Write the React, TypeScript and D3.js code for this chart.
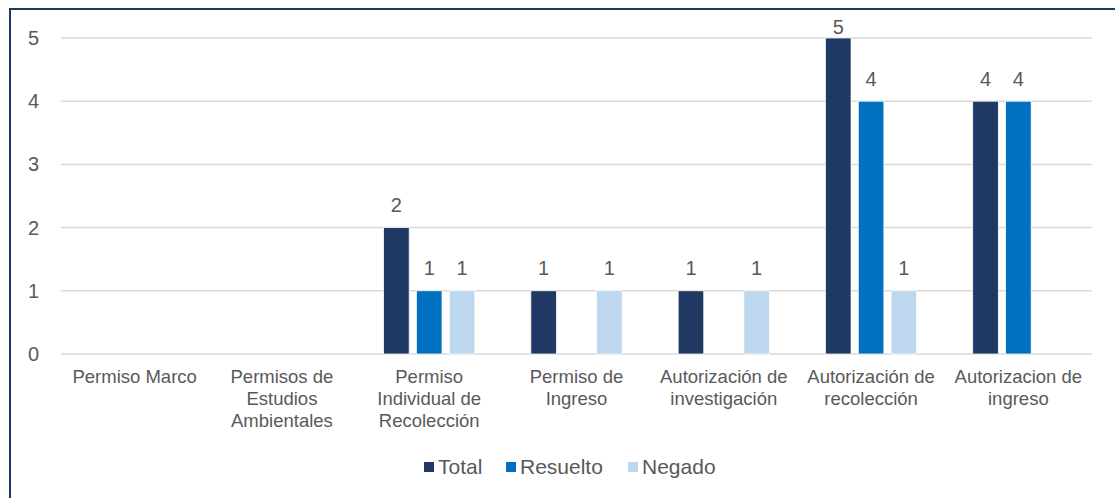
import React from "react";
import * as d3 from "d3";

const categories = [
  "Permiso Marco",
  "Permisos de\nEstudios\nAmbientales",
  "Permiso\nIndividual de\nRecolección",
  "Permiso de\nIngreso",
  "Autorización de\ninvestigación",
  "Autorización de\nrecolección",
  "Autorizacion de\ningreso",
];
const seriesNames = ["Total", "Resuelto", "Negado"];
const total: (number | null)[] = [null, null, 2, 1, 1, 5, 4];
const resuelto: (number | null)[] = [null, null, 1, null, null, 4, 4];
const negado: (number | null)[] = [null, null, 1, 1, 1, 1, null];
const yTicks = [0, 1, 2, 3, 4, 5];
const colors = ["#1F3864", "#0070C0", "#BDD7EE"];

const W = 1115;
const H = 498;
const FONT = "'Liberation Sans', Arial, sans-serif";
const TXT = "#595959";

export default function App() {
  const series = [total, resuelto, negado];
  const x = d3.scaleBand<string>().domain(categories).range([61, 1092]);
  const inner = d3
    .scaleBand<string>()
    .domain(seriesNames)
    .range([28, x.bandwidth() - 28])
    .paddingInner(0.22);
  const y = d3.scaleLinear().domain([0, 5]).range([354, 38]);

  return (
    <svg
      width={W}
      height={H}
      style={{ position: "absolute", left: 0, top: 0, background: "#fff" }}
      fontFamily={FONT}
    >
      <rect x={0} y={0} width={W} height={H} fill="#fff" />
      <rect x={10} y={9} width={1300} height={700} fill="none" stroke="#1F3864" strokeWidth={2} />
      {yTicks.map((t) => (
        <g key={t}>
          <line x1={61} x2={1092} y1={y(t)} y2={y(t)} stroke="#D9D9D9" strokeWidth={1.5} />
          <text x={39} y={y(t)} dy="0.35em" textAnchor="end" fontSize={20} fill={TXT}>
            {t}
          </text>
        </g>
      ))}
      {categories.map((c, ci) => (
        <g key={c}>
          {series.map((s, si) => {
            const v = s[ci];
            if (v == null) return null;
            const bx = (x(c) as number) + (inner(seriesNames[si]) as number);
            const bw = inner.bandwidth();
            const ly = Math.max(y(v) - 15.5, 33.5);
            return (
              <g key={si}>
                <rect
                  x={bx}
                  y={y(v)}
                  width={bw}
                  height={y(0) - y(v)}
                  fill={colors[si]}
                  stroke="#fff"
                  strokeWidth={0.75}
                />
                <text x={bx + bw / 2} y={ly} textAnchor="middle" fontSize={20} fill={TXT}>
                  {v}
                </text>
              </g>
            );
          })}
          {c.split("\n").map((line, li) => (
            <text
              key={li}
              x={(x(c) as number) + x.bandwidth() / 2}
              y={383 + li * 22}
              textAnchor="middle"
              fontSize={18.5}
              fill={TXT}
            >
              {line}
            </text>
          ))}
        </g>
      ))}
      {(() => {
        const items = [
          { name: seriesNames[0], sx: 424 },
          { name: seriesNames[1], sx: 506 },
          { name: seriesNames[2], sx: 628 },
        ];
        return items.map((it, i) => (
          <g key={it.name}>
            <rect x={it.sx} y={462} width={10} height={10} fill={colors[i]} />
            <text x={it.sx + 14} y={467} dy="0.35em" fontSize={21} fill={TXT}>
              {it.name}
            </text>
          </g>
        ));
      })()}
    </svg>
  );
}
